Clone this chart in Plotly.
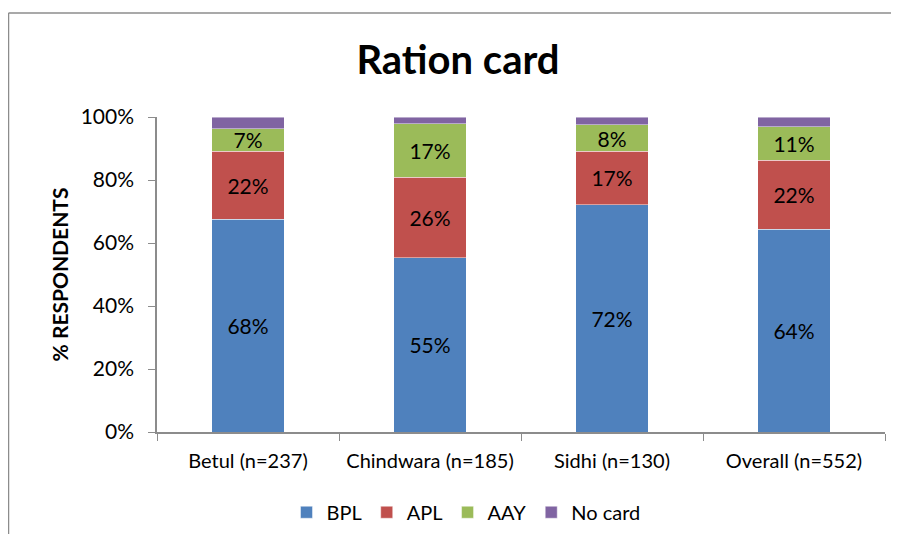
import plotly.graph_objects as go

categories = ["Betul (n=237)", "Chindwara (n=185)", "Sidhi (n=130)", "Overall (n=552)"]
bpl = [67.6, 55.3, 72.2, 64.4]
apl = [21.6, 25.6, 16.9, 21.9]
aay = [7.1, 17.0, 8.4, 10.6]
no_card = [3.7, 2.1, 2.5, 3.1]
y_ticks = [0, 20, 40, 60, 80, 100]
y_tick_labels = ["0%", "20%", "40%", "60%", "80%", "100%"]

series = [
  ("BPL", bpl, "#4F81BD", True),
  ("APL", apl, "#C0504D", True),
  ("AAY", aay, "#9BBB59", True),
  ("No card", no_card, "#8064A2", False),
]

font = "Lato, Calibri, sans-serif"

fig = go.Figure()
for name, vals, color, labelled in series:
  fig.add_trace(go.Bar(
    name=name, x=categories, y=vals,
    marker=dict(color=color, line=dict(color="rgba(255,255,255,0.45)", width=1)),
    texttemplate="%{y:.0f}%" if labelled else "",
    textposition="inside", insidetextanchor="middle", constraintext="none",
    textfont=dict(family=font, size=21, color="black"),
    hoverinfo="skip",
  ))

# page body has an 8px margin; keep the figure inside the window so no scrollbars appear
# plot area in figure pixels: x 149..877, y 109..427
W, H = 883, 530
L, R, T, B = 149, 6, 109, 103
pw, ph = W - L - R, H - T - B
def px(x): return (x - L) / pw
def py(y): return (H - B - y) / ph

border = dict(color="#8c8c8c", width=1.5)
fig.update_layout(
  width=W, height=H,
  barmode="stack", bargap=0.6,
  margin=dict(l=L, r=R, t=T, b=B),
  paper_bgcolor="white", plot_bgcolor="white",
  font=dict(family=font, color="black"),
  title=dict(text="<b>Ration card</b>", x=450 / W, xanchor="center", y=1 - 52 / H, yanchor="middle",
             font=dict(family=font, size=40, color="black")),
  showlegend=True,
  legend=dict(orientation="h", x=px(458), xanchor="center", y=py(508), yanchor="middle",
              font=dict(family=font, size=20), traceorder="normal", itemwidth=30),
  shapes=[
    dict(type="line", xref="paper", yref="paper", x0=px(0.5), x1=px(W), y0=py(4), y1=py(4), line=border),
    dict(type="line", xref="paper", yref="paper", x0=px(0.5), x1=px(0.5), y0=py(4), y1=py(H), line=border),
  ],
)
fig.update_yaxes(
  range=[0, 100], tickvals=y_ticks, ticktext=y_tick_labels,
  showgrid=False, zeroline=False,
  showline=True, linecolor="#8c8c8c", linewidth=1.5,
  ticks="outside", ticklen=7, tickcolor="#8c8c8c", ticklabelstandoff=10,
  tickfont=dict(family=font, size=21),
  title=dict(text="<b>% RESPONDENTS</b>", font=dict(family=font, size=21), standoff=6),
)
fig.update_xaxes(
  showgrid=False, showline=True, linecolor="#8c8c8c", linewidth=1.5,
  ticks="outside", ticklen=7, tickcolor="#8c8c8c", tickson="boundaries", ticklabelstandoff=10,
  tickfont=dict(family=font, size=20),
)

fig.write_html("out.html")
